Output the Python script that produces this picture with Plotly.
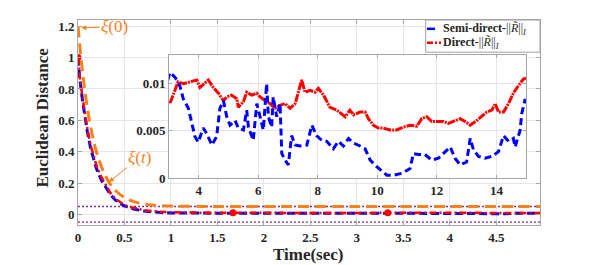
import numpy as np
import plotly.graph_objects as go

# ---------------- data ----------------
red_t = [0, 0.02, 0.05, 0.075, 0.1, 0.136, 0.175, 0.2, 0.25, 0.29, 0.35, 0.4, 0.45, 0.5, 0.54, 0.6, 0.7, 0.8, 0.9, 1.0,
         1.25, 1.5, 1.75, 2.0, 2.25, 2.5, 2.75,
         3.03, 3.2, 3.3, 3.48, 3.7, 3.93, 4.04, 4.2, 4.32, 4.49, 4.66, 4.83, 4.94, 5.1, 5.28, 5.33, 5.5, 5.61, 5.78,
         5.95, 6.06, 6.23, 6.39, 6.56, 6.73, 6.9, 7.07, 7.24, 7.35, 7.46, 7.57, 7.74, 7.91, 8.02, 8.19, 8.3, 8.41,
         8.64, 8.8, 8.92, 9.08, 9.2, 9.42, 9.59, 9.7, 9.87, 10.04, 10.2, 10.43, 10.65, 10.88, 11.1, 11.33, 11.49,
         11.66, 11.83, 11.99, 12.22, 12.39, 12.56, 12.78, 12.95, 13.12, 13.34, 13.51, 13.68, 13.85, 13.96, 14.07,
         14.24, 14.41, 14.57, 14.74, 14.91, 15.0]
red_v = [1.0, 0.87, 0.74, 0.64, 0.55, 0.44, 0.35, 0.31, 0.24, 0.195, 0.135, 0.10, 0.078, 0.060, 0.050, 0.040, 0.028,
         0.020, 0.016, 0.013,
         0.011, 0.0100, 0.0095, 0.0092, 0.0090, 0.0087, 0.0084,
         0.0079, 0.0093, 0.0102, 0.0100, 0.0102, 0.0104, 0.0096, 0.0100, 0.0104, 0.0096, 0.0090, 0.0082, 0.0086,
         0.0088, 0.0084, 0.0075, 0.0081, 0.0091, 0.0088, 0.0090, 0.0086, 0.0082, 0.0079, 0.0074, 0.0077, 0.0079,
         0.0074, 0.0079, 0.0093, 0.0104, 0.0091, 0.0093, 0.0091, 0.0095, 0.0088, 0.0082, 0.0075, 0.0072, 0.0068,
         0.0065, 0.0072, 0.0067, 0.0070, 0.0070, 0.0063, 0.0056, 0.0053, 0.0053, 0.0051, 0.0051, 0.0054, 0.0056,
         0.0055, 0.0063, 0.0065, 0.0060, 0.0060, 0.0060, 0.0058, 0.0060, 0.0063, 0.0060, 0.0056, 0.0061, 0.0065,
         0.0070, 0.0072, 0.0079, 0.0070, 0.0070, 0.0079, 0.0090, 0.0098, 0.0105, 0.0106]

blue_t = [0, 0.02, 0.05, 0.075, 0.1, 0.136, 0.175, 0.2, 0.25, 0.29, 0.35, 0.4, 0.45, 0.5, 0.6, 0.7, 0.8, 0.9, 1.0,
          1.25, 1.5, 1.75, 2.0, 2.25, 2.5, 2.75,
          3.03, 3.2, 3.3, 3.37, 3.48, 3.65, 3.76, 3.87, 3.98, 4.15, 4.27, 4.44, 4.6, 4.71, 4.83, 4.94, 5.05, 5.22,
          5.33, 5.5, 5.61, 5.67, 5.83, 5.95, 6.06, 6.17, 6.28, 6.34, 6.45, 6.5, 6.62, 6.73, 6.79, 6.9, 7.01, 7.12,
          7.24, 7.4, 7.63, 7.8, 7.96, 8.13, 8.3, 8.52, 8.69, 8.86, 9.03, 9.2, 9.42, 9.59, 9.76, 9.98, 10.32, 10.54,
          10.82, 11.1, 11.21, 11.38, 11.6, 11.83, 12.05, 12.22, 12.45, 12.61, 12.78, 13.0, 13.12, 13.23, 13.4,
          13.62, 13.85, 14.07, 14.24, 14.41, 14.57, 14.63, 14.8, 14.85, 14.97]
blue_v = [1.0, 0.86, 0.72, 0.62, 0.53, 0.42, 0.33, 0.29, 0.22, 0.18, 0.125, 0.092, 0.07, 0.054, 0.034, 0.022, 0.015,
          0.011, 0.009,
          0.007, 0.0065, 0.0065, 0.007, 0.0072, 0.0075, 0.008,
          0.0112, 0.0107, 0.0102, 0.0097, 0.0084, 0.0074, 0.0058, 0.0044, 0.0038, 0.0053, 0.0047, 0.0035, 0.0044,
          0.0074, 0.0082, 0.0065, 0.0056, 0.0061, 0.0053, 0.0051, 0.0072, 0.0054, 0.0040, 0.0079, 0.0065, 0.0051,
          0.0100, 0.0065, 0.0054, 0.0086, 0.0065, 0.0079, 0.0026, 0.0019, 0.0014, 0.0045, 0.0035, 0.0034, 0.0035,
          0.0056, 0.0045, 0.0040, 0.0039, 0.0031, 0.0039, 0.0034, 0.0042, 0.0037, 0.0034, 0.0031, 0.0019, 0.0012,
          0.0003, 0.0003, 0.0005, 0.0010, 0.0026, 0.0025, 0.0025, 0.0019, 0.0021, 0.0026, 0.0033, 0.0021, 0.0014,
          0.0017, 0.0042, 0.0030, 0.0023, 0.0021, 0.0023, 0.0028, 0.0045, 0.0039, 0.0042, 0.0033, 0.0051, 0.0068,
          0.0084]

xi_t = [0, 0.05, 0.1, 0.15, 0.2, 0.25, 0.3, 0.35, 0.4, 0.5, 0.6, 0.7, 0.8, 1.0, 1.25, 1.5, 2.0, 3.0, 4.0, 5.0]
xi_v = [1.20, 0.902, 0.681, 0.517, 0.396, 0.307, 0.240, 0.190, 0.154, 0.107, 0.081, 0.067, 0.059, 0.053, 0.051,
        0.050, 0.050, 0.050, 0.050, 0.050]

bound_t = [0, 5]
upper_bound = [0.05, 0.05]
lower_bound = [-0.05, -0.05]

marker_t = [0, 1.667, 3.333]

main_xticks = [0, 0.5, 1, 1.5, 2, 2.5, 3, 3.5, 4, 4.5]
main_xticktext = ["0", "0.5", "1", "1.5", "2", "2.5", "3", "3.5", "4", "4.5"]
main_yticks = [0, 0.2, 0.4, 0.6, 0.8, 1, 1.2]
main_yticktext = ["0", "0.2", "0.4", "0.6", "0.8", "1", "1.2"]
inset_xticks = [4, 6, 8, 10, 12, 14]
inset_xticktext = ["4", "6", "8", "10", "12", "14"]
inset_yticks = [0, 0.005, 0.01]
inset_yticktext = ["0", "0.005", "0.01"]

legend_labels = ["<b>Semi-direct-</b>||<i>R\u0303</i>||<sub><i>I</i></sub>",
                 "<b>Direct-</b>||<i>R\u0303</i>||<sub><i>I</i></sub>"]

# ---------------- style ----------------
BLUE = "#0000FF"
RED = "#FF0000"
ORANGE = "#F5821F"
PURPLE = "#7E2F8E"
SERIF = "Liberation Serif, Times New Roman, Times, serif"
GRID = "#e6e6e6"
AXC = "#a6a6a6"
TXT = "#262626"


def bold(labels):
    return ["<b>%s</b>" % s for s in labels]


fig = go.Figure()

# main traces
fig.add_trace(go.Scatter(x=bound_t, y=upper_bound, mode="lines",
                         line=dict(color=PURPLE, width=1.3, dash="2px,2px"), showlegend=False))
fig.add_trace(go.Scatter(x=bound_t, y=lower_bound, mode="lines",
                         line=dict(color=PURPLE, width=1.3, dash="2px,2px"), showlegend=False))
fig.add_trace(go.Scatter(x=xi_t, y=xi_v, mode="lines", line=dict(color=ORANGE, width=3, dash="11px,6px"),
                         line_shape="spline", showlegend=False))
fig.add_trace(go.Scatter(x=blue_t, y=blue_v, mode="lines", line=dict(color=BLUE, width=3, dash="8px,4px"),
                         showlegend=False))
fig.add_trace(go.Scatter(x=red_t, y=red_v, mode="lines", line=dict(color=RED, width=2.5, dash="7px,3px,2px,3px"),
                         showlegend=False))
marker_v = list(np.interp(marker_t, red_t, red_v))
fig.add_trace(go.Scatter(x=marker_t, y=marker_v, mode="markers",
                         marker=dict(color=RED, size=7), showlegend=False))

# inset traces
fig.add_trace(go.Scatter(x=red_t, y=red_v, mode="lines", line=dict(color=RED, width=3, dash="8px,1px,2px,1px"),
                         xaxis="x2", yaxis="y2", showlegend=False))
fig.add_trace(go.Scatter(x=blue_t, y=blue_v, mode="lines", line=dict(color=BLUE, width=3, dash="7px,4px"),
                         xaxis="x2", yaxis="y2", showlegend=False))

tickfont = dict(family=SERIF, size=13, color=TXT)
common = dict(showgrid=True, gridcolor=GRID, zeroline=False, showline=True, linecolor=AXC, mirror="ticks",
              ticks="inside", tickcolor=AXC, tickfont=tickfont, automargin=False)

fig.update_layout(
    width=598, height=265,
    margin=dict(l=78, r=58, t=20, b=40),
    paper_bgcolor="white", plot_bgcolor="white",
    showlegend=False,
    hovermode=False,
    xaxis=dict(domain=[0, 1], range=[0, 4.97], tickvals=main_xticks, ticktext=bold(main_xticktext),
               ticklen=4, **common),
    yaxis=dict(domain=[0, 1], range=[-0.068, 1.24], tickvals=main_yticks, ticktext=bold(main_yticktext),
               ticklen=4, **common),
    xaxis2=dict(domain=[0.197, 0.970], anchor="y2", range=[3, 15], tickvals=inset_xticks,
                ticktext=bold(inset_xticktext), ticklen=3, **common),
    yaxis2=dict(domain=[0.229, 0.827], anchor="x2", range=[0, 0.013], tickvals=inset_yticks,
                ticktext=bold(inset_yticktext), ticklen=3, **common),
)

# axis titles
fig.add_annotation(x=0.499, y=-0.146, xref="paper", yref="paper", text="<b>Time(sec)</b>", showarrow=False,
                   xanchor="center", yanchor="middle", font=dict(family=SERIF, size=17, color=TXT))
fig.add_annotation(x=-0.0758, y=0.524, xref="paper", yref="paper", text="<b>Euclidean Distance</b>",
                   showarrow=False, textangle=-90, xanchor="center", yanchor="middle",
                   font=dict(family=SERIF, size=17, color=TXT))

# annotations xi(0), xi(t)
fig.add_annotation(x=0.035, y=1.19, xref="x", yref="y", text="<i>ξ</i>(0)", showarrow=True,
                   ax=33, ay=-1, arrowhead=2, arrowsize=1, arrowwidth=1, arrowcolor=ORANGE,
                   font=dict(family=SERIF, size=17, color=ORANGE))
fig.add_annotation(x=0.333, y=0.206, xref="x", yref="y", text="<i>ξ</i>(<i>t</i>)", showarrow=True,
                   ax=31, ay=-25, arrowhead=2, arrowsize=1, arrowwidth=1, arrowcolor=ORANGE,
                   font=dict(family=SERIF, size=17, color=ORANGE))

# manual legend
fig.add_shape(type="rect", xref="paper", yref="paper", x0=0.7526, x1=1.0, y0=0.843, y1=1.0,
              line=dict(color="#a0a0a0", width=1), fillcolor="white", layer="above")
fig.add_shape(type="line", xref="paper", yref="paper", x0=0.7554, x1=0.7727, y0=0.957, y1=0.957,
              line=dict(color=BLUE, width=2.5), layer="above")
fig.add_shape(type="line", xref="paper", yref="paper", x0=0.7554, x1=0.7857, y0=0.889, y1=0.889,
              line=dict(color=RED, width=2.5, dash="6px,2px,2px,2px"), layer="above")
for lab, yy in zip(legend_labels, [0.957, 0.889]):
    fig.add_annotation(x=0.786, y=yy, xref="paper", yref="paper", text=lab, showarrow=False,
                       xanchor="left", yanchor="middle",
                       font=dict(family=SERIF, size=12, color=TXT))

fig.write_html("out.html", config={"displayModeBar": False},
               post_script="document.body.style.margin='0';")
